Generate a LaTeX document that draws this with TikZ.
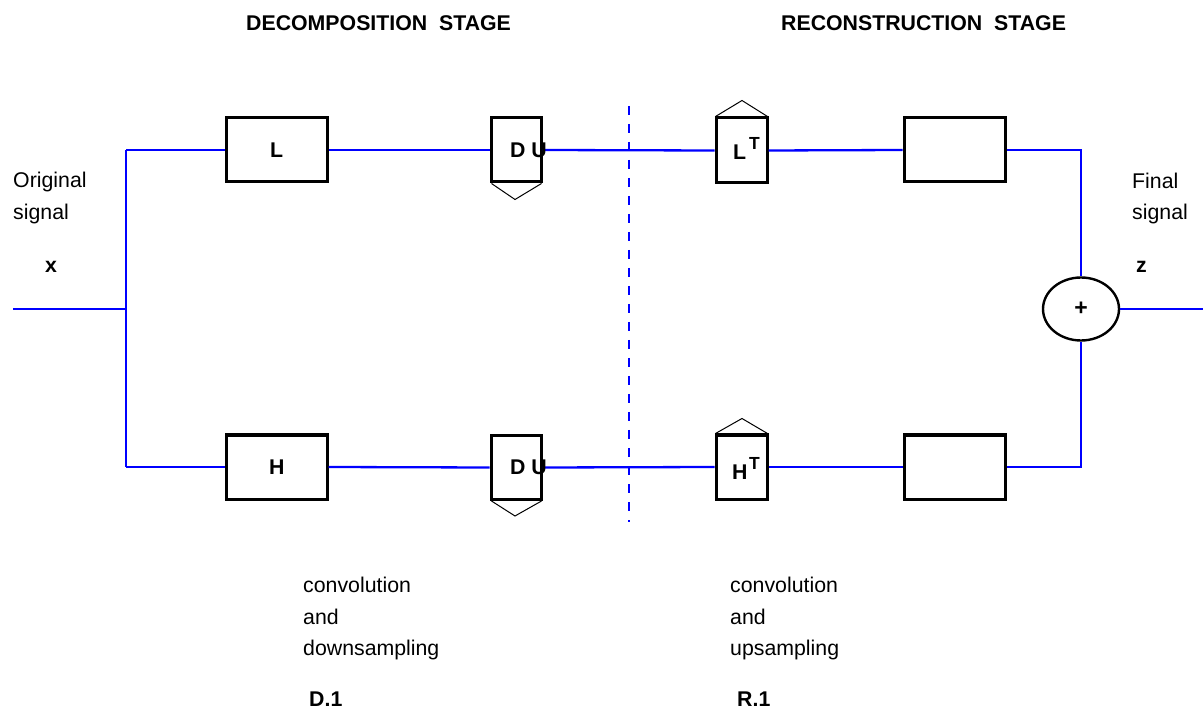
\documentclass[tikz,border=0pt]{standalone}
\usepackage{fontspec}
\setmainfont{Liberation Sans}
\usetikzlibrary{calc,shapes.geometric}
\begin{document}
\begin{tikzpicture}[x=1pt,y=-1pt,
  wire/.style={draw=blue,line width=2.3pt},
  blockbox/.style={draw=black,line width=3pt,fill=white,inner sep=0pt,
    minimum width=101pt,minimum height=64pt},
  ratebox/.style={draw=black,line width=3pt,fill=white,inner sep=0pt,
    minimum width=50pt,minimum height=64pt},
  hat/.style={draw=black,line width=1pt},
  txt/.style={inner sep=0pt,anchor=base west,font=\fontsize{21.3}{25}\selectfont},
  btxt/.style={txt,font=\fontsize{21.3}{25}\selectfont\bfseries},
  supT/.style={inner sep=0pt,anchor=base west,font=\fontsize{17.5}{20}\selectfont\bfseries}]
\useasboundingbox (0,0) rectangle (1203,711);

% branch points and free ends
\coordinate (in) at (13,309);
\coordinate (split) at (126,309);
\coordinate (splitT) at (126,150);
\coordinate (splitB) at (126,467);
\coordinate (joinT) at (1081,150);
\coordinate (joinB) at (1081,467);
\coordinate (out) at (1203,309);

% blocks
\node[blockbox] (L) at (276.5,150) {};
\node[blockbox] (H) at (276.5,467) {};
\node[ratebox] (d1) at (516,150) {};
\node[ratebox] (d2) at (516,467.5) {};
\node[ratebox,minimum width=51pt,minimum height=65pt] (LT) at (741.5,150.5) {};
\node[ratebox,minimum width=51pt] (HT) at (741.5,467) {};
\node[blockbox] (r1) at (954.5,150) {};
\node[blockbox] (r2) at (954.5,467) {};
\node[ellipse,draw=black,line width=2.4pt,fill=white,inner sep=0pt,
  minimum width=76pt,minimum height=63pt] (sum) at (1081,309) {};

% signal paths
\draw[wire] (in) -- (split);
\draw[wire] (splitT) -- (splitB);
\draw[wire] (splitT) -- (L.west);
\draw[wire] (splitB) -- (H.west);
\draw[wire] (L.east) -- (d1.west);
\draw[wire] (H.east) -- (d2.west);
\draw[wire] (d1.east) -- (LT.west);
\draw[wire] (d2.east) -- (HT.west);
\draw[wire] (LT.east) -- (r1.west);
\draw[wire] (HT.east) -- (r2.west);
\draw[wire] (r1.east) -- (joinT) -- (sum.north);
\draw[wire] (r2.east) -- (joinB) -- (sum.south);
\draw[wire] (sum.east) -- (out);

% stage separator
\draw[blue,line width=2.3pt,dash pattern=on 9pt off 9pt] (629,106) -- (629,522);

% down/up sampling marks
\draw[hat] ($(d1.south west)+(2,0)$) -- ($(d1.south)+(-1,16)$) -- ($(d1.south east)+(-1,0)$);
\draw[hat] ($(d2.south west)+(2,0)$) -- ($(d2.south)+(-1,15)$) -- ($(d2.south east)+(-1,0)$);
\draw[hat] ($(LT.north west)+(1,0)$) -- ($(LT.north)+(0.5,-16)$) -- ($(LT.north east)+(-1,0)$);
\draw[hat] ($(HT.north west)+(1,0)$) -- ($(HT.north)+(0.5,-15)$) -- ($(HT.north east)+(-1,0)$);

% block labels
\node[btxt] (tL) at (270,158) {L};
\node[btxt] (tH) at (269,475) {H};
\node[btxt] (tD1) at (510,158) {D U};
\node[btxt] (tD2) at (510,475) {D U};
\node[btxt] (tLT) at (733,160) {L};
\node[supT] (tLTs) at (749,150) {T};
\node[btxt] (tHT) at (732,479) {H};
\node[supT] (tHTs) at (749,469) {T};
\node[font=\fontsize{23}{25}\selectfont\bfseries,inner sep=0pt] (tsum) at (1081,309) {+};

% headings
\node[btxt] (h1) at (246,31) {DECOMPOSITION\ \ STAGE};
\node[btxt] (h2) at (781,31) {RECONSTRUCTION\ \ STAGE};

% signal labels
\node[txt] (o1) at (13,188) {Original};
\node[txt] (o2) at (13,220) {signal};
\node[btxt] (ox) at (45,273) {x};
\node[txt] (f1) at (1132,189) {Final};
\node[txt] (f2) at (1132,220) {signal};
\node[btxt] (fz) at (1136,273) {z};

% stage captions
\node[txt] (c1) at (303,592) {convolution};
\node[txt] (c2) at (303,624) {and};
\node[txt] (c3) at (303,655) {downsampling};
\node[btxt] (c4) at (309,706) {D.1};
\node[txt] (e1) at (730,592) {convolution};
\node[txt] (e2) at (730,624) {and};
\node[txt] (e3) at (730,655) {upsampling};
\node[btxt] (e4) at (737,706) {R.1};
\end{tikzpicture}
\end{document}
